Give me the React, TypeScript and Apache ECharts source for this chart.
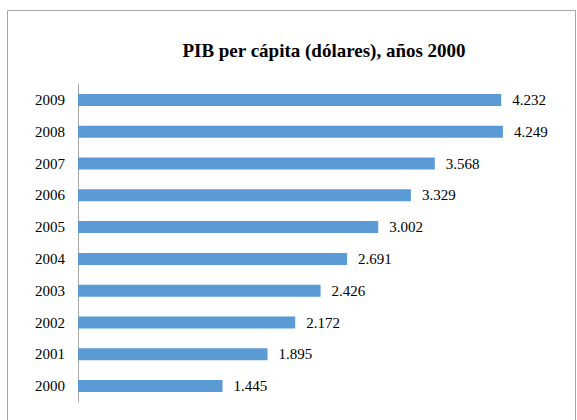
import React, { useEffect, useRef } from "react";
import * as echarts from "echarts";

const years = ["2000", "2001", "2002", "2003", "2004", "2005", "2006", "2007", "2008", "2009"];
const gdpPerCapita = [1445, 1895, 2172, 2426, 2691, 3002, 3329, 3568, 4249, 4232];
const chartTitle = "PIB per cápita (dólares), años 2000";

const SERIF = "'Liberation Serif', 'Times New Roman', 'DejaVu Serif', serif";

function fmt(v: number): string {
  return String(v).replace(/\B(?=(\d{3})+(?!\d))/g, ".");
}

export default function App() {
  const ref = useRef<HTMLDivElement>(null);
  useEffect(() => {
    if (!ref.current) return;
    const chart = echarts.init(ref.current, null, { renderer: "svg" });
    chart.setOption({
      animation: false,
      backgroundColor: "#ffffff",
      graphic: [
        {
          type: "rect",
          shape: { x: 7.5, y: 10.5, width: 568, height: 430 },
          style: { fill: "none", stroke: "#a6a6a6", lineWidth: 1 },
          silent: true,
        },
      ],
      title: {
        text: chartTitle,
        left: 319,
        top: 36,
        textAlign: "center",
        textStyle: {
          fontFamily: SERIF,
          fontWeight: "bold",
          fontSize: 19,
          color: "#000000",
        },
      },
      grid: { left: 78, right: 49, top: 84, bottom: 18, containLabel: false },
      xAxis: {
        type: "value",
        min: 0,
        max: 4500,
        show: false,
      },
      yAxis: {
        type: "category",
        data: years,
        axisLine: { show: true, lineStyle: { color: "#a6a6a6", width: 1 } },
        axisTick: { show: false },
        axisLabel: {
          fontFamily: SERIF,
          fontSize: 15,
          color: "#000000",
          margin: 13,
        },
        splitLine: { show: false },
      },
      series: [
        {
          type: "bar",
          data: gdpPerCapita,
          barWidth: 12,
          itemStyle: { color: "#5b9bd5" },
          label: {
            show: true,
            position: "right",
            distance: 11,
            fontFamily: SERIF,
            fontSize: 15,
            color: "#000000",
            formatter: (p: any) => fmt(p.value),
          },
        },
      ],
    });
    return () => chart.dispose();
  }, []);
  return <div ref={ref} style={{ width: 577, height: 420, position: "absolute", left: 0, top: 0 }} />;
}
